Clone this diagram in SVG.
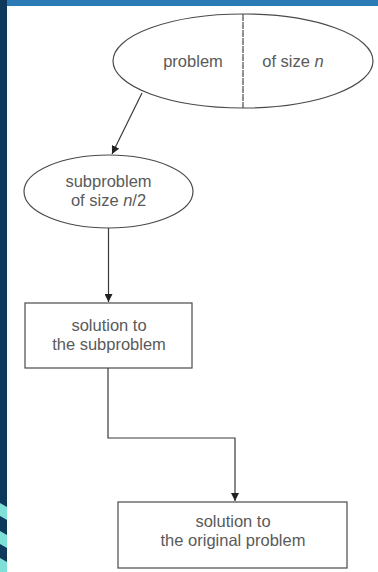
<svg xmlns="http://www.w3.org/2000/svg" width="378" height="572" viewBox="0 0 378 572">
<style>
.shape{fill:#ffffff;stroke:#4a4a4a;stroke-width:1.2}
.conn{fill:none;stroke:#3a3a3a;stroke-width:1.2}
.t{font-family:"Liberation Sans",Arial,sans-serif;font-size:16.5px;fill:#5a5a5a;text-anchor:middle}
</style>
<defs>
<marker id="ah" markerWidth="9" markerHeight="8" refX="8" refY="4" orient="auto" markerUnits="userSpaceOnUse">
<path d="M0,0 L8,4 L0,8 Z" fill="#222"/>
</marker>
</defs>
<rect x="0" y="0" width="378" height="572" fill="#ffffff"/>
<rect x="0" y="0" width="378" height="6" fill="#2a7ab6"/>
<rect x="0" y="0" width="7" height="572" fill="#0d3a5a"/>
<g fill="#7fe0d8">
<polygon points="0,503 7,507 7,520 0,516"/>
<polygon points="0,531 7,535 7,548 0,544"/>
<polygon points="0,558 7,562 7,572 0,572"/>
</g>
<g id="n-problem">
<ellipse class="shape" cx="243" cy="61" rx="130" ry="47"/>
<line x1="243" y1="14" x2="243" y2="108" stroke="#4a4a4a" stroke-width="1.2" stroke-dasharray="7,1"/>
<text class="t" x="193" y="67">problem</text>
<text class="t" x="293" y="67">of size <tspan font-style="italic">n</tspan></text>
</g>
<g id="n-subproblem">
<ellipse class="shape" cx="108.5" cy="191.5" rx="84.5" ry="36.5"/>
<text class="t" x="108.5" y="187">subproblem</text>
<text class="t" x="108.5" y="206">of size <tspan font-style="italic">n</tspan>/2</text>
</g>
<g id="n-subsolution">
<rect class="shape" x="25" y="303" width="167" height="65"/>
<text class="t" x="109" y="331">solution to</text>
<text class="t" x="109" y="350">the subproblem</text>
</g>
<g id="n-solution">
<rect class="shape" x="118" y="502" width="229" height="66"/>
<text class="t" x="233" y="527">solution to</text>
<text class="t" x="233" y="546">the original problem</text>
</g>
<g id="connectors">
<path class="conn" d="M142,93 L112,154" marker-end="url(#ah)"/>
<path class="conn" d="M108.5,228 L108.5,302" marker-end="url(#ah)"/>
<path class="conn" d="M108,368 L108,438 L235,438 L235,501" marker-end="url(#ah)"/>
</g>
</svg>
